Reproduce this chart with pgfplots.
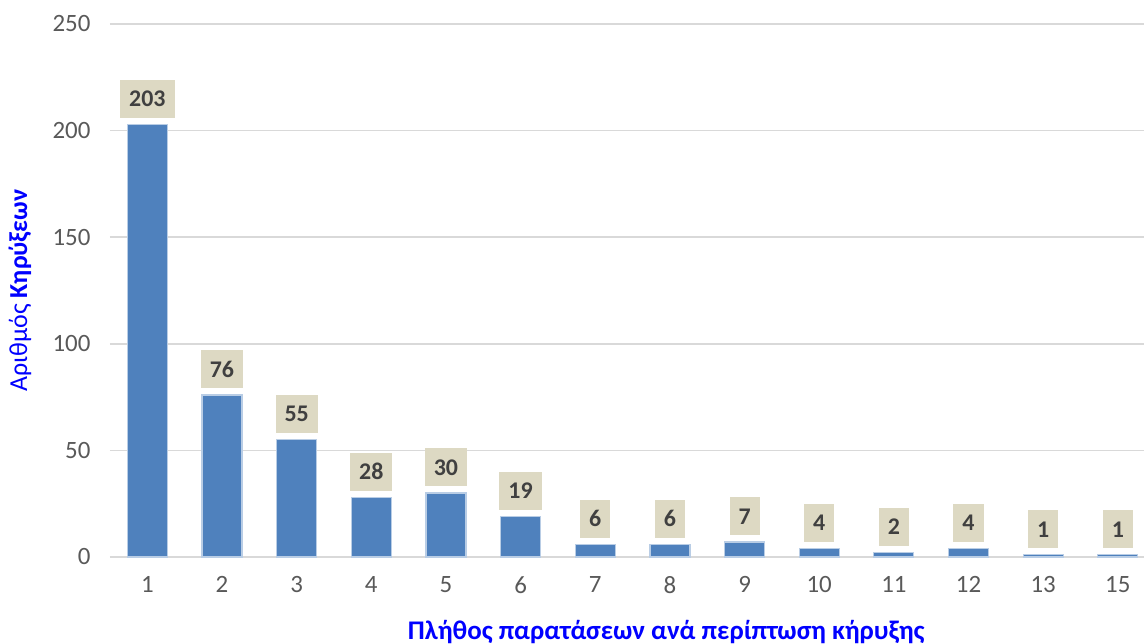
\documentclass[border=0pt]{standalone}
\usepackage{pgfplots}
\pgfplotsset{compat=1.18}
\usepackage{fontspec}
\setmainfont{Carlito}
\definecolor{barblue}{RGB}{79,129,189}
\definecolor{baredge}{RGB}{185,205,229}
\definecolor{labbg}{RGB}{221,217,195}
\definecolor{labtxt}{RGB}{64,64,64}
\definecolor{tickgrey}{RGB}{89,89,89}
\definecolor{gridgrey}{RGB}{217,217,217}
\definecolor{titleblue}{RGB}{0,0,255}
\begin{document}
\begin{tikzpicture}
\begin{axis}[
  name=ax,
  scale only axis,
  width=1034bp, height=533bp,
  xmin=-0.5, xmax=13.35,
  ymin=0, ymax=250,
  ytick={0,50,100,150,200,250},
  xtick={0,...,13},
  xticklabels={1,2,3,4,5,6,7,8,9,10,11,12,13,15},
  axis line style={draw=none},
  major tick length=0pt,
  ymajorgrids,
  grid style={gridgrey, line width=1.5bp},
  /pgf/number format/assume math mode=true,
  ticklabel style={font=\fontsize{25}{30}\selectfont, text=tickgrey},
  yticklabel style={xshift=-16bp},
  xticklabel style={yshift=-16bp},
  ylabel={\textcolor{titleblue}{Αριθμός \textbf{Κηρύξεων}}},
  ylabel style={font=\fontsize{26}{31}\selectfont, at={(axis description cs:-0.087,0.5)}, anchor=center, rotate=0},
  xlabel={\textbf{Πλήθος παρατάσεων ανά περίπτωση κήρυξης}},
  xlabel style={font=\fontsize{27}{32}\selectfont, text=titleblue, at={(axis description cs:0.538,0)}, yshift=-75bp, anchor=center},
  clip=false,
  ybar, bar width=40bp,
  bar shift=0pt,
  nodes near coords,
  every node near coord/.append style={
    font=\bfseries\fontsize{24}{29}\selectfont, text=labtxt,
    fill=labbg, inner xsep=9bp, inner ysep=0pt, minimum height=38bp,
    anchor=south, yshift=6bp},
]
\addplot[fill=barblue, draw=baredge, line width=1.2bp] coordinates {
(0,203) (1,76) (2,55) (3,28) (4,30) (5,19) (6,6) (7,6) (8,7) (9,4) (10,2) (11,4) (12,1) (13,1)};
\end{axis}
\pgfresetboundingbox
\path[use as bounding box] (ax.south west) ++(-110bp,-87bp) rectangle ++(1144bp,644bp);
\end{tikzpicture}
\end{document}
